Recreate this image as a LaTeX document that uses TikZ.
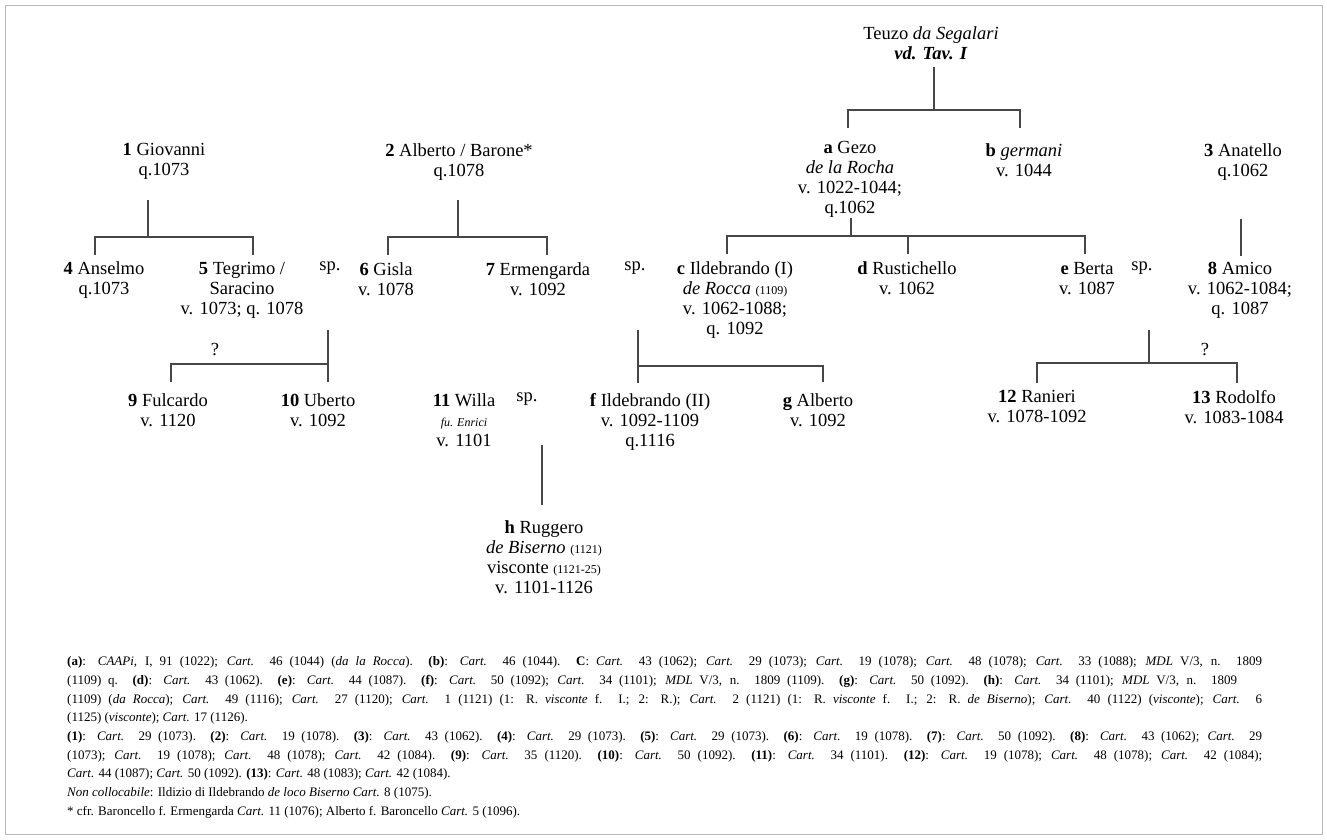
\documentclass[tikz,border=0pt]{standalone}
\usepackage{fontspec}
\setmainfont{Liberation Serif}
\newcommand\smallf{\fontsize{12}{14}\selectfont}
\newcommand\Ct{\textit{Cart.}}
\begin{document}
\begin{tikzpicture}[x=1pt,y=-1pt,
  person/.style={align=center, anchor=north, inner sep=0pt, font=\fontsize{18.5}{20}\selectfont},
  spouse/.style={anchor=north, inner sep=0pt, font=\fontsize{18.5}{20}\selectfont},
  line/.style={draw=black!72, line width=2.2pt},
  fn/.style={anchor=base west, inner sep=0pt, font=\fontsize{13}{15}\selectfont}]
\useasboundingbox (0,0) rectangle (1327,839);
\draw[gray!55, line width=0.9pt] (5,5) rectangle (1322,834);

% people
\node[person] (teuzo) at (931,26) {Teuzo \textit{da Segalari}\\\textbf{\textit{vd. Tav. I}}};
\node[person] (gezo) at (850,141) {\textbf{a} Gezo\\\textit{de la Rocha}\\v. 1022-1044;\\q.1062};
\node[person] (germani) at (1024,143) {\textbf{b} \textit{germani}\\v. 1044};
\node[person] (anatello) at (1243,143) {\textbf{3} Anatello\\q.1062};
\node[person] (giovanni) at (164,143) {\textbf{1} Giovanni\\q.1073};
\node[person] (alberto) at (459,143) {\textbf{2} Alberto / Barone*\\q.1078};
\node[person] (anselmo) at (104,261) {\textbf{4} Anselmo\\q.1073};
\node[person] (tegrimo) at (242,262) {\textbf{5} Tegrimo /\\Saracino\\v. 1073; q. 1078};
\node[person] (gisla) at (386,262) {\textbf{6} Gisla\\v. 1078};
\node[person] (ermengarda) at (538,262) {\textbf{7} Ermengarda\\v. 1092};
\node[person] (ildeb1) at (735,261) {\textbf{c} Ildebrando (I)\\\textit{de Rocca} {\smallf(1109)}\\v. 1062-1088;\\q. 1092};
\node[person] (rustichello) at (907,261) {\textbf{d} Rustichello\\v. 1062};
\node[person] (berta) at (1087,262) {\textbf{e} Berta\\v. 1087};
\node[person] (amico) at (1240,262) {\textbf{8} Amico\\v. 1062-1084;\\q. 1087};
\node[person] (fulcardo) at (168,393) {\textbf{9} Fulcardo\\v. 1120};
\node[person] (uberto) at (318,393) {\textbf{10} Uberto\\v. 1092};
\node[person] (willa) at (464,393) {\textbf{11} Willa\\{\smallf\textit{fu. Enrici}}\\v. 1101};
\node[person] (ildeb2) at (650,393) {\textbf{f} Ildebrando (II)\\v. 1092-1109\\q.1116};
\node[person] (albertog) at (818,393) {\textbf{g} Alberto\\v. 1092};
\node[person] (ranieri) at (1037,390) {\textbf{12} Ranieri\\v. 1078-1092};
\node[person] (rodolfo) at (1234,390) {\textbf{13} Rodolfo\\v. 1083-1084};
\node[person] (ruggero) at (544,520) {\textbf{h} Ruggero\\\textit{de Biserno} {\smallf(1121)}\\visconte {\smallf(1121-25)}\\v. 1101-1126};

% spouse marks
\node[spouse] (sp1) at (330,262) {sp.};
\node[spouse] (sp2) at (635,262) {sp.};
\node[spouse] (sp3) at (1142,262) {sp.};
\node[spouse] (sp4) at (527,393) {sp.};
\node[spouse] (q1) at (215,343) {?};
\node[spouse] (q2) at (1205,343) {?};

% junction coordinates
\coordinate (t0) at (934,67);  \coordinate (t1) at (934,110);
\coordinate (g0) at (851,218); \coordinate (g1) at (851,236);
\coordinate (v0) at (148,200); \coordinate (v1) at (148,237);
\coordinate (a0) at (458,200); \coordinate (a1) at (458,237);
\coordinate (n0) at (1241,219); \coordinate (n1) at (1241,256);
\coordinate (s1) at (328,330); \coordinate (s1b) at (328,364);
\coordinate (s2) at (638,330); \coordinate (s2b) at (638,366);
\coordinate (s3) at (1149,330); \coordinate (s3b) at (1149,363);
\coordinate (s4) at (542,445); \coordinate (s4b) at (542,505);

% Teuzo
\draw[line] (t0) -- (t1);
\draw[line] (848,128) -- (848,110) -- (1020,110) -- (1020,128);
% Gezo
\draw[line] (g0) -- (g1);
\draw[line] (727,254) -- (727,236) -- (1085,236) -- (1085,254);
\draw[line] (908,236) -- (908,254);
% Giovanni
\draw[line] (v0) -- (v1);
\draw[line] (95,255) -- (95,237) -- (253,237) -- (253,255);
% Alberto
\draw[line] (a0) -- (a1);
\draw[line] (388,255) -- (388,237) -- (547,237) -- (547,255);
% Anatello -> Amico
\draw[line] (n0) -- (n1);
% Tegrimo sp. Gisla
\draw[line] (s1) -- (328,382);
\draw[line] (171,382) -- (171,364) -- (s1b);
% Ildebrando (I)
\draw[line] (s2) -- (638,383);
\draw[line] (s2b) -- (823,366) -- (823,382);
% Willa sp. Ildebrando (II)
\draw[line] (s4) -- (s4b);
% Berta sp. Amico
\draw[line] (s3) -- (s3b);
\draw[line] (1037,383) -- (1037,363) -- (1237,363) -- (1237,383);

% footnotes
\node[fn] (f1) at (67,665) {\hbox to 1195pt{\textbf{(a)}: \textit{CAAPi}, I, 91 (1022); \Ct{} 46 (1044) (\textit{da la Rocca}). \textbf{(b)}: \Ct{} 46 (1044). \textbf{C}: \Ct{} 43 (1062); \Ct{} 29 (1073); \Ct{} 19 (1078); \Ct{} 48 (1078); \Ct{} 33 (1088); \textit{MDL} V/3, n. 1809}};
\node[fn] (f2) at (67,684) {\hbox to 1170pt{(1109) q. \textbf{(d)}: \Ct{} 43 (1062). \textbf{(e)}: \Ct{} 44 (1087). \textbf{(f)}: \Ct{} 50 (1092); \Ct{} 34 (1101); \textit{MDL} V/3, n. 1809 (1109). \textbf{(g)}: \Ct{} 50 (1092). \textbf{(h)}: \Ct{} 34 (1101); \textit{MDL} V/3, n. 1809}};
\node[fn] (f3) at (67,703) {\hbox to 1195pt{(1109) (\textit{da Rocca}); \Ct{} 49 (1116); \Ct{} 27 (1120); \Ct{} 1 (1121) (1: R. \textit{visconte} f. I.; 2: R.); \Ct{} 2 (1121) (1: R. \textit{visconte} f. I.; 2: R. \textit{de Biserno}); \Ct{} 40 (1122) (\textit{visconte}); \Ct{} 6}};
\node[fn] (f4) at (67,721) {(1125) (\textit{visconte}); \Ct{} 17 (1126).};
\node[fn] (f5) at (67,740) {\hbox to 1195pt{\textbf{(1)}: \Ct{} 29 (1073). \textbf{(2)}: \Ct{} 19 (1078). \textbf{(3)}: \Ct{} 43 (1062). \textbf{(4)}: \Ct{} 29 (1073). \textbf{(5)}: \Ct{} 29 (1073). \textbf{(6)}: \Ct{} 19 (1078). \textbf{(7)}: \Ct{} 50 (1092). \textbf{(8)}: \Ct{} 43 (1062); \Ct{} 29}};
\node[fn] (f6) at (67,759) {\hbox to 1195pt{(1073); \Ct{} 19 (1078); \Ct{} 48 (1078); \Ct{} 42 (1084). \textbf{(9)}: \Ct{} 35 (1120). \textbf{(10)}: \Ct{} 50 (1092). \textbf{(11)}: \Ct{} 34 (1101). \textbf{(12)}: \Ct{} 19 (1078); \Ct{} 48 (1078); \Ct{} 42 (1084);}};
\node[fn] (f7) at (67,777) {\Ct{} 44 (1087); \Ct{} 50 (1092). \textbf{(13)}: \Ct{} 48 (1083); \Ct{} 42 (1084).};
\node[fn] (f8) at (67,796) {\textit{Non collocabile}: Ildizio di Ildebrando \textit{de loco Biserno} \Ct{} 8 (1075).};
\node[fn] (f9) at (67,815) {* cfr. Baroncello f. Ermengarda \Ct{} 11 (1076); Alberto f. Baroncello \Ct{} 5 (1096).};
\end{tikzpicture}
\end{document}
